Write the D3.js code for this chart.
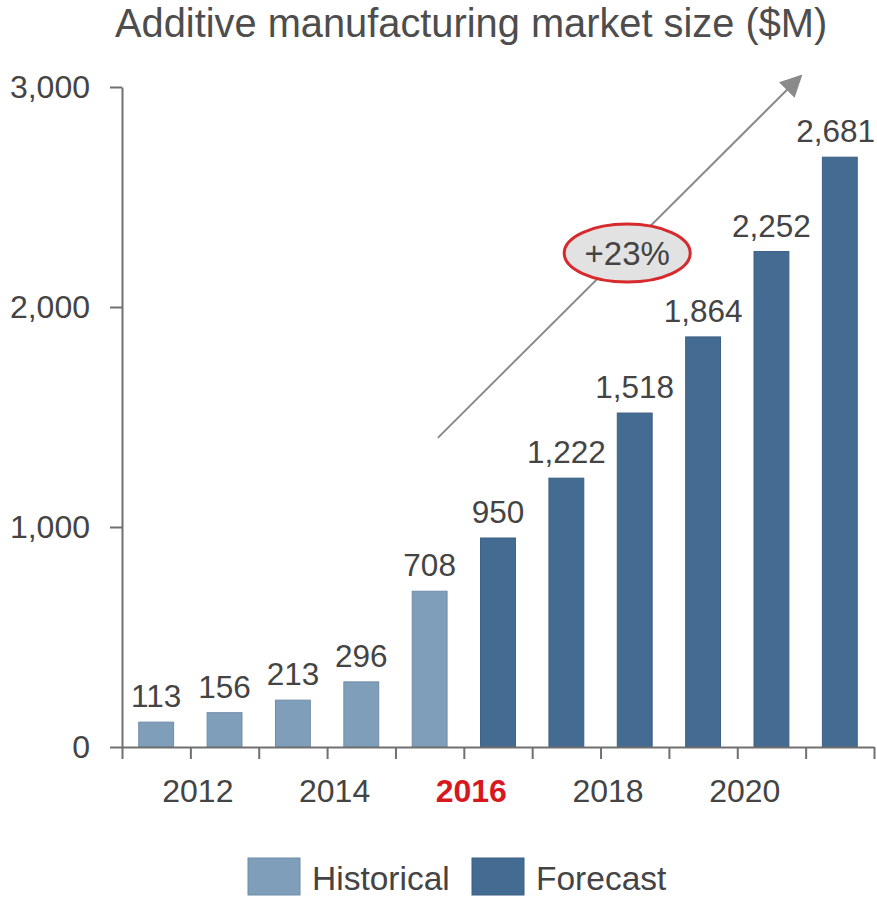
<!DOCTYPE html>
<html>
<head>
<meta charset="utf-8">
<script src="https://cdn.jsdelivr.net/npm/d3@7"></script>
<style>
  html, body { margin: 0; padding: 0; background: #fff; }
  svg { display: block; font-family: "Liberation Sans", Arial, Helvetica, sans-serif; }
</style>
</head>
<body>
<svg id="chart" width="877" height="898"></svg>
<script>
// Market size by year, $M
const years = ["2011", "2012", "2013", "2014", "2015", "2016", "2017", "2018", "2019", "2020", "2021"];
const values = [113, 156, 213, 296, 708, 950, 1222, 1518, 1864, 2252, 2681];
const kinds = ["Historical", "Historical", "Historical", "Historical", "Historical",
               "Forecast", "Forecast", "Forecast", "Forecast", "Forecast", "Forecast"];
const yTicks = [0, 1000, 2000, 3000];
const xTickLabels = ["2012", "2014", "2016", "2018", "2020"];
const legendItems = ["Historical", "Forecast"];
const highlightYear = "2016";
const growthLabel = "+23%";
const titleText = "Additive manufacturing market size ($M)";

const colors = { Historical: "#7f9eba", Forecast: "#446c92" };
const strokes = { Historical: "#6f8ca8", Forecast: "#3b5f82" };
const textColor = "#444";
const axisColor = "#707070";

const W = 877;
const svg = d3.select("#chart");
const plotLeft = 122, plotRight = 874, plotTop = 87, plotBottom = 747;

const x = d3.scaleBand().domain(years).range([plotLeft, plotRight])
  .paddingInner(0.49).paddingOuter(0.245);
const y = d3.scaleLinear().domain([0, 3000]).range([plotBottom, plotTop]);
// boundaries between year bands, used for the tick marks under the axis
const xb = d3.scaleLinear().domain([0, years.length]).range([plotLeft, plotRight]);

// title
svg.append("text")
  .attr("x", 115).attr("y", 37)
  .attr("font-size", 39.8)
  .attr("fill", "#4d4d4d")
  .text(titleText);

// growth arrow (drawn first so the badge sits on top)
const defs = svg.append("defs");
defs.append("marker")
  .attr("id", "head").attr("viewBox", "0 0 10 10")
  .attr("refX", 9).attr("refY", 5)
  .attr("markerWidth", 22).attr("markerHeight", 22)
  .attr("markerUnits", "userSpaceOnUse")
  .attr("orient", "auto")
  .append("path").attr("d", "M0,0 L10,5 L0,10 Z").attr("fill", "#8a8a8a");

const arrowFrom = { band: 4.62, value: 1405 };
const arrowTo = { band: 9.93, value: 3050 };
svg.append("line")
  .attr("x1", xb(arrowFrom.band)).attr("y1", y(arrowFrom.value))
  .attr("x2", xb(arrowTo.band)).attr("y2", y(arrowTo.value))
  .attr("stroke", "#8a8a8a").attr("stroke-width", 2)
  .attr("marker-end", "url(#head)");

// badge on the arrow
const badge = { band: 7.39, value: 2245 };
svg.append("ellipse")
  .attr("cx", xb(badge.band)).attr("cy", y(badge.value))
  .attr("rx", 63).attr("ry", 29)
  .attr("fill", "#e2e2e2").attr("stroke", "#d62a2c").attr("stroke-width", 3);
svg.append("text")
  .attr("x", xb(badge.band)).attr("y", y(badge.value) + 12)
  .attr("text-anchor", "middle").attr("font-size", 33)
  .attr("fill", textColor)
  .text(growthLabel);

// bars
svg.append("g").selectAll("rect")
  .data(years)
  .join("rect")
  .attr("x", (d) => x(d))
  .attr("y", (d, i) => y(values[i]))
  .attr("width", x.bandwidth())
  .attr("height", (d, i) => y(0) - y(values[i]))
  .attr("fill", (d, i) => colors[kinds[i]])
  .attr("stroke", (d, i) => strokes[kinds[i]])
  .attr("stroke-width", 1);

// value labels, kept inside the right edge of the page
svg.append("g").selectAll("text")
  .data(years)
  .join("text")
  .attr("x", (d) => x(d) + x.bandwidth() / 2)
  .attr("y", (d, i) => y(values[i]) - 15)
  .attr("text-anchor", "middle")
  .attr("font-size", 31.5)
  .attr("fill", textColor)
  .text((d, i) => d3.format(",")(values[i]))
  .each(function (d) {
    const half = this.getComputedTextLength() / 2;
    const cx = x(d) + x.bandwidth() / 2;
    if (cx + half > W - 2) d3.select(this).attr("x", W - 2 - half);
  });

// y axis
const yAxis = svg.append("g")
  .attr("transform", `translate(${plotLeft},0)`)
  .call(d3.axisLeft(y).tickValues(yTicks).tickSize(12).tickSizeOuter(0)
    .tickPadding(20).tickFormat(d3.format(",")));
yAxis.selectAll("text").attr("font-size", 32).attr("fill", textColor);

// x axis: ticks at band boundaries, year labels every other boundary
const xAxis = svg.append("g")
  .attr("transform", `translate(0,${plotBottom})`)
  .call(d3.axisBottom(xb).tickValues(d3.range(years.length + 1))
    .tickSize(12).tickSizeOuter(0).tickPadding(20)
    .tickFormat((k) => {
      const label = String(+years[0] + k);
      return xTickLabels.includes(label) ? label : "";
    }));
xAxis.selectAll("text")
  .attr("font-size", 32)
  .attr("dx", 7)
  .attr("fill", textColor)
  .filter((k) => String(+years[0] + k) === highlightYear)
  .attr("fill", "#d7191f")
  .attr("font-weight", "bold");

[yAxis, xAxis].forEach((g) => {
  g.select(".domain").attr("stroke", axisColor).attr("stroke-width", 2);
  g.selectAll(".tick line").attr("stroke", axisColor).attr("stroke-width", 2);
});

// legend
const legend = svg.append("g");
const legendX = [248, 472];
legendItems.forEach((name, i) => {
  legend.append("rect")
    .attr("x", legendX[i]).attr("y", 858)
    .attr("width", 52).attr("height", 37)
    .attr("fill", colors[name]).attr("stroke", strokes[name]).attr("stroke-width", 1);
  legend.append("text")
    .attr("x", legendX[i] + 64).attr("y", 890)
    .attr("font-size", 33.5)
    .attr("fill", textColor)
    .text(name);
});
</script>
</body>
</html>
